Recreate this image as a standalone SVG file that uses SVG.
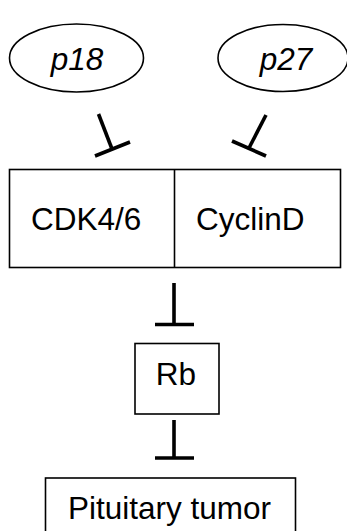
<svg xmlns="http://www.w3.org/2000/svg" width="347" height="531" viewBox="0 0 347 531">
<style>
.shape{fill:#fff;stroke:#000;stroke-width:1.6}
.lbl{font-family:"Liberation Sans",Arial,sans-serif;font-size:31.5px;fill:#000}
.it{font-style:italic}
.inh{stroke:#000;stroke-width:3.6;fill:none}
</style>
<rect width="347" height="531" fill="#fff"/>
<g id="p18">
<ellipse class="shape" cx="76.5" cy="58" rx="67" ry="34"/>
<text class="lbl it" x="77" y="70" text-anchor="middle">p18</text>
</g>
<g id="p27">
<ellipse class="shape" cx="283" cy="58" rx="65" ry="33.5"/>
<text class="lbl it" x="286" y="70" text-anchor="middle">p27</text>
</g>
<g id="cdk-cyclin">
<rect class="shape" x="9.5" y="169.5" width="331" height="98"/>
<line class="shape" x1="174.5" y1="169.5" x2="174.5" y2="267.5"/>
<text class="lbl" x="31" y="230">CDK4/6</text>
<text class="lbl" x="196" y="230">CyclinD</text>
</g>
<g id="rb">
<rect class="shape" x="135" y="343.5" width="84" height="70.5"/>
<text class="lbl" x="176" y="385" text-anchor="middle">Rb</text>
</g>
<g id="tumor">
<rect class="shape" x="45.5" y="478" width="250" height="70"/>
<text class="lbl" x="169.5" y="519" text-anchor="middle">Pituitary tumor</text>
</g>
<g id="connectors">
<line class="inh" x1="98.5" y1="114" x2="112" y2="149"/>
<line class="inh" x1="95" y1="156" x2="130" y2="142"/>
<line class="inh" x1="266" y1="115" x2="249" y2="148"/>
<line class="inh" x1="232" y1="141" x2="266" y2="156"/>
<line class="inh" x1="174" y1="283" x2="174" y2="324.5"/>
<line class="inh" x1="155" y1="324.5" x2="194" y2="324.5"/>
<line class="inh" x1="174" y1="420" x2="174" y2="458"/>
<line class="inh" x1="155" y1="458" x2="194" y2="458"/>
</g>
</svg>
